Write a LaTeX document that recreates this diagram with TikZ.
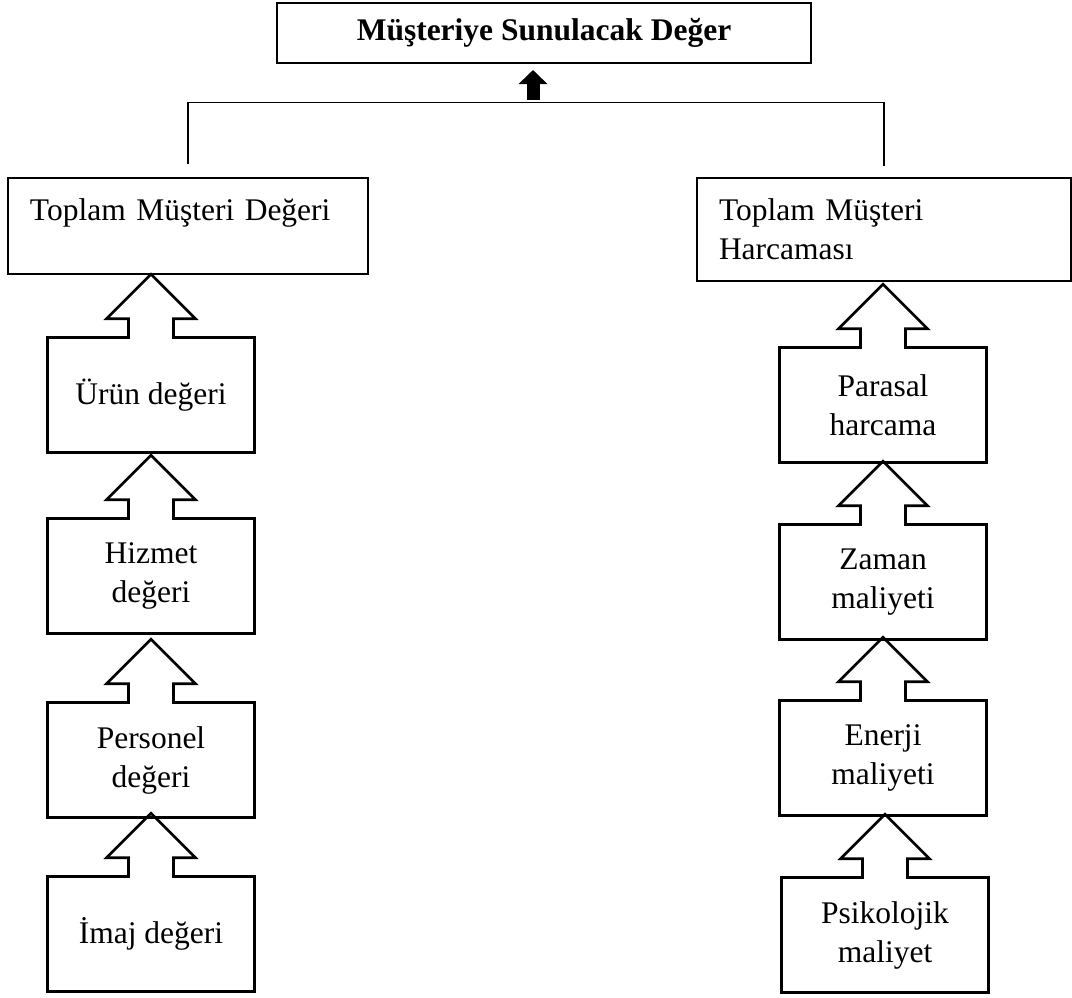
\documentclass[tikz,border=0pt]{standalone}
\usepackage{fontspec}
\setmainfont{Liberation Serif}
\usetikzlibrary{shapes.arrows,arrows.meta}

\tikzset{
  kutu/.style={draw, line width=1.2pt, rectangle, inner xsep=22pt, inner ysep=0pt, align=left, text height=42pt},
  baslik/.style={draw, line width=1.4pt, rectangle, font=\fontsize{31.5pt}{39pt}\selectfont\bfseries,
    minimum width=534pt, minimum height=60pt},
  oklu/.style={draw, line width=2.6pt, arrow box, arrow box arrows={north:62pt from border},
    arrow box shaft width=45pt, arrow box head extend=22pt, arrow box tip angle=90,
    minimum width=207pt, minimum height=115pt, inner sep=0pt, align=center},
  hat/.style={line width=1.2pt},
  kalinok/.style={line width=13pt, -{Triangle[width=28pt,length=14pt]}}
}

\begin{document}
\begin{tikzpicture}[x=1pt, y=-1pt, font=\fontsize{31.5pt}{39pt}\selectfont]
  \useasboundingbox (0,0) rectangle (1072,997);
  \node[baslik] (msd) at (544,33) {Müşteriye Sunulacak Değer};
  \node[kutu, text width=316pt, text depth=54pt] (tmd) at (188,226) {Toplam Müşteri Değeri};
  \node[kutu, text width=330pt, text depth=61pt] (tmh) at (884,229.5) {Toplam Müşteri\\Harcaması};
  \draw[hat] ([yshift=13pt]tmd.north) -- ++(0,-62) -| ([yshift=11pt]tmh.north);
  \coordinate (okbas) at (533,100);
  \coordinate (okuc) at (533,70);
  \draw[kalinok] (okbas) -- (okuc);
  \node[oklu] (urun) at (151,395) {Ürün değeri};
  \node[oklu] (hizmet) at (151,576) {Hizmet\\değeri};
  \node[oklu] (personel) at (151,760) {Personel\\değeri};
  \node[oklu] (imaj) at (151,934) {İmaj değeri};
  \node[oklu] (parasal) at (883,405) {Parasal\\harcama};
  \node[oklu] (zaman) at (883,582) {Zaman\\maliyeti};
  \node[oklu] (enerji) at (883,758) {Enerji\\maliyeti};
  \node[oklu] (psiko) at (885,935) {Psikolojik\\maliyet};
\end{tikzpicture}
\end{document}
